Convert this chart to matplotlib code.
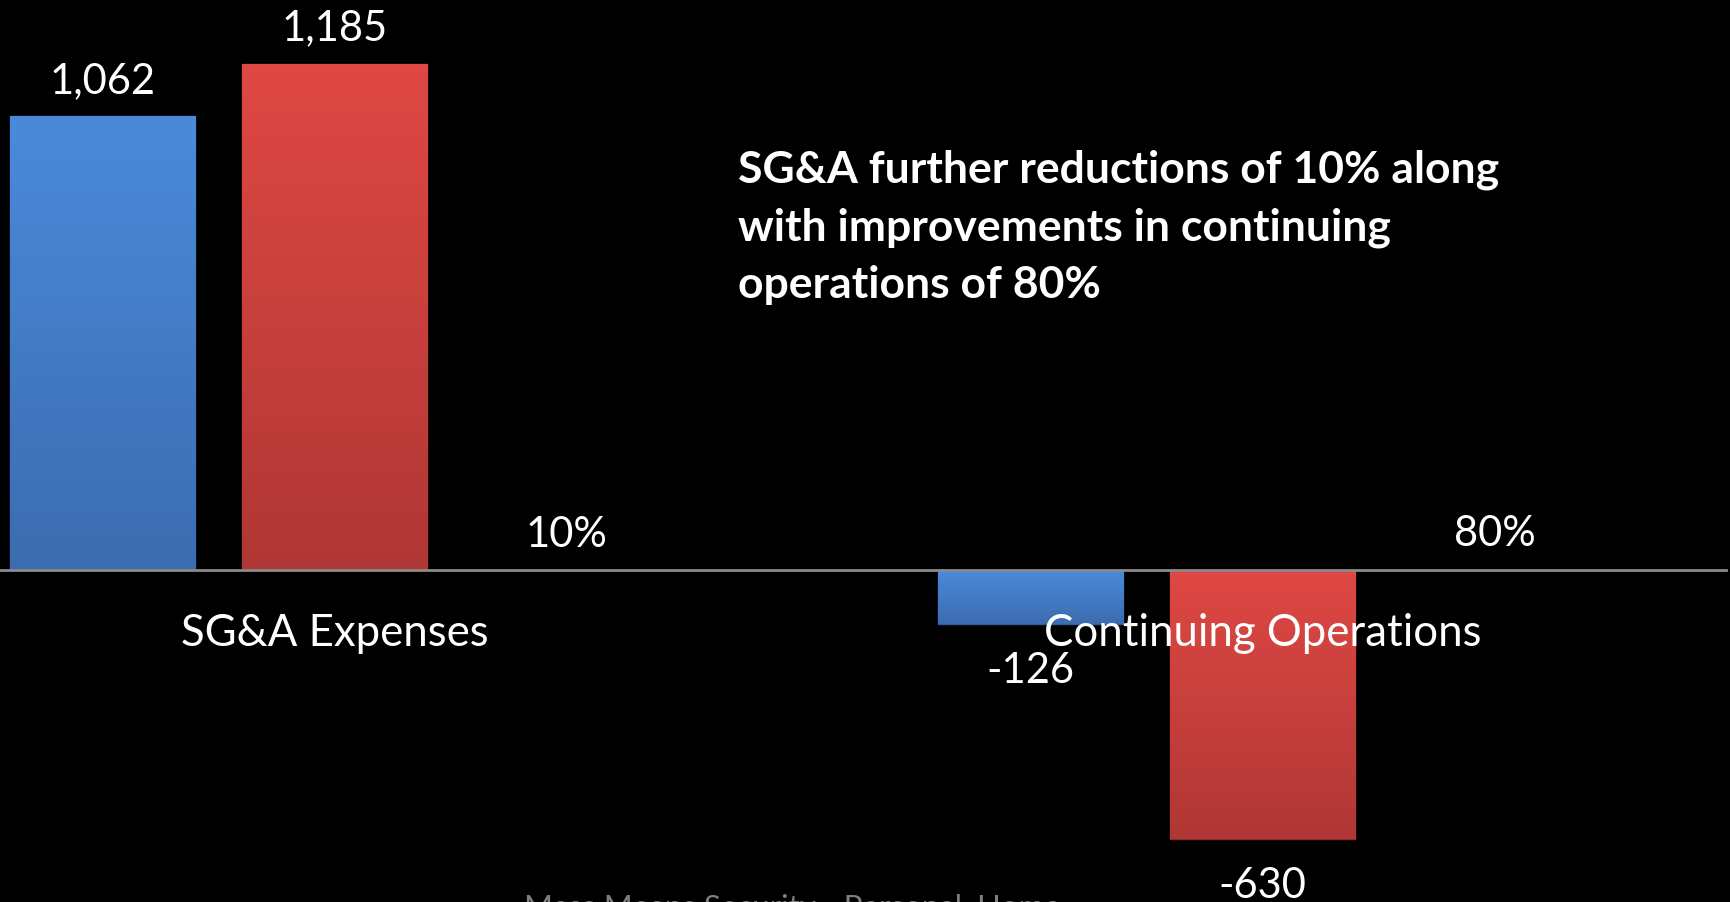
import matplotlib
matplotlib.use("Agg")
import matplotlib.pyplot as plt
import numpy as np
from matplotlib.colors import LinearSegmentedColormap

plt.rcParams['font.family'] = ['Lato', 'DejaVu Sans']

categories = ['SG&A Expenses', 'Continuing Operations']
prior = [1062, -126]
current = [1185, -630]
change = [0.10, 0.80]
prior_labels = ['1,062', '-126']
current_labels = ['1,185', '-630']
change_labels = ['10%', '80%']

note_lines = ['SG&A further reductions of 10% along',
              'with improvements in continuing',
              'operations of 80%']
footer = 'Mass Means Security - Personal, Home'

fig = plt.figure(figsize=(17.30, 9.03), dpi=100)
fig.patch.set_facecolor('black')
ax = fig.add_axes([0, 0, 1726 / 1730, 1])
ax.set_facecolor('black')

x = np.arange(len(categories))
w = 0.2
b1 = ax.bar(x - 0.25, prior, w, color='#4A86D6', edgecolor='#2F5C9A', lw=1, zorder=2)
b2 = ax.bar(x, current, w, color='#D9443F', edgecolor='#8E2A27', lw=1, zorder=2)
b3 = ax.bar(x + 0.25, change, w, color='#9BBB59', lw=0, zorder=1)

# vertical shading inside each bar
shades = {
    id(b1): LinearSegmentedColormap.from_list('b', ['#3C6CB0', '#4B8ADB']),
    id(b2): LinearSegmentedColormap.from_list('r', ['#B03735', '#DF4844']),
}
grad = np.linspace(0, 1, 256).reshape(-1, 1)
for bars in (b1, b2):
    for p in bars:
        x0, y0 = p.get_x(), p.get_y()
        x1, y1 = x0 + p.get_width(), y0 + p.get_height()
        lo, hi = min(y0, y1), max(y0, y1)
        im = ax.imshow(grad, extent=[x0, x1, lo, hi], origin='lower',
                       aspect='auto', cmap=shades[id(bars)], zorder=2.5)
        im.set_clip_path(p)

ax.set_xlim(-0.3605, 1.4995)
ax.set_ylim(-777.2, 1336.6)

for s in ['top', 'left', 'right']:
    ax.spines[s].set_visible(False)
ax.spines['bottom'].set_position(('data', 0))
ax.spines['bottom'].set_color('#8A8A8A')
ax.spines['bottom'].set_linewidth(2)
ax.spines['bottom'].set_zorder(3)
ax.set_yticks([])
ax.set_xticks([])

lab_fs = 30
for bars, labels in ((b1, prior_labels), (b2, current_labels), (b3, change_labels)):
    for p, t in zip(bars, labels):
        v = p.get_height()
        cx = p.get_x() + p.get_width() / 2
        dy = 17.5 if v >= 0 else -42
        ax.annotate(t, (cx, v), xytext=(0, dy), textcoords='offset points',
                    ha='center', va='baseline', color='white', fontsize=lab_fs,
                    zorder=4)

for i, name in enumerate(categories):
    ax.text(i, -175.6, name, ha='center', va='baseline', color='white',
            fontsize=31.5, zorder=4)

for k, line in enumerate(note_lines):
    fig.text(738 / 1730, 1 - (183 + 57.5 * k) / 903, line, ha='left',
             va='baseline', color='white', fontsize=32, fontweight='bold')

fig.text(792 / 1730, -14 / 903, footer, ha='center', va='baseline',
         color='#7F7F7F', fontsize=22.5)

fig.savefig('out.png', dpi=100, facecolor='black')
